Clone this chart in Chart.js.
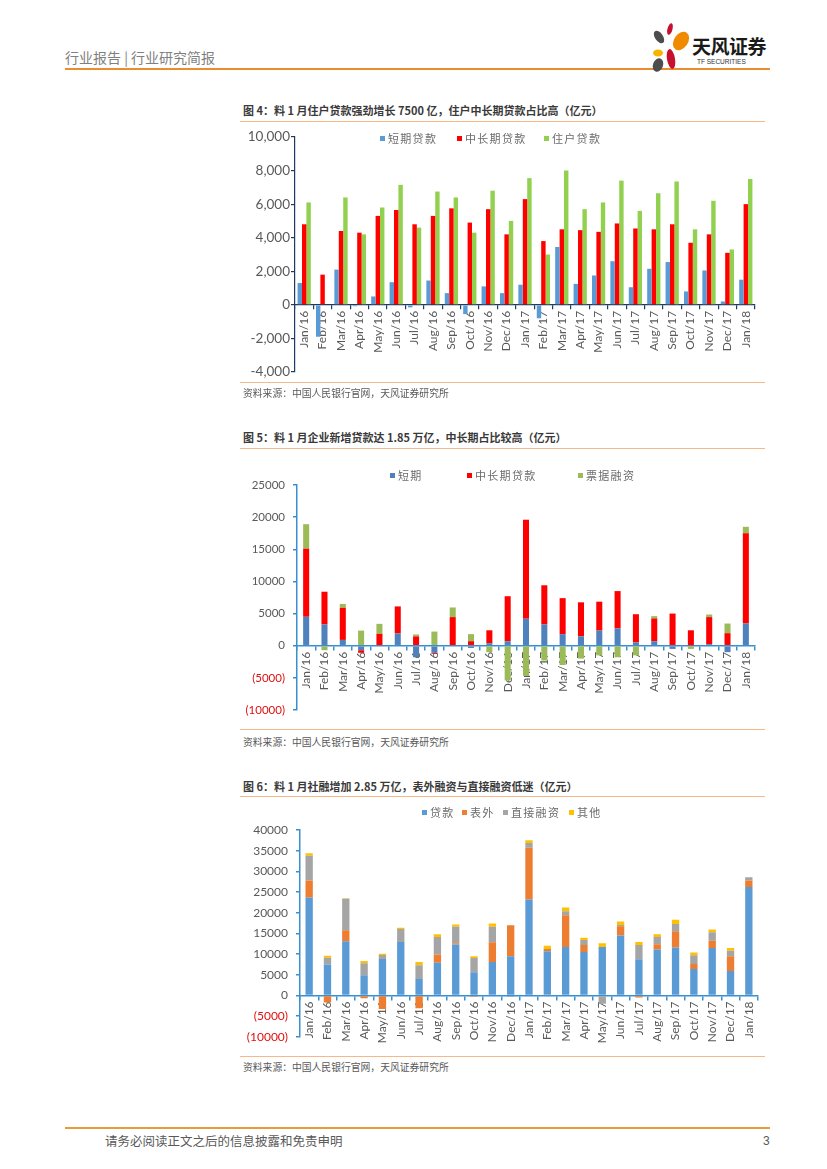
<!DOCTYPE html>
<html>
<head>
<meta charset="utf-8">
<script src="https://cdn.jsdelivr.net/npm/chart.js@4.4.1/dist/chart.umd.min.js"></script>
<style>
body{margin:0;background:#fff;}
#page{position:relative;width:827px;height:1169px;overflow:hidden;font-family:"Noto Sans CJK SC",sans-serif;}
.t{position:absolute;white-space:nowrap;}
.hl{position:absolute;height:0;}
.ttl{font-size:11px;font-weight:bold;color:#3a3a3a;line-height:14px;}
.src{font-size:9.8px;color:#595959;line-height:12px;}
.lg{position:absolute;white-space:nowrap;font-size:11px;letter-spacing:1.3px;color:#6b6b6b;line-height:12px;display:flex;align-items:center;}
.lg i{display:inline-block;width:5px;height:5px;margin-right:3px;}
canvas{position:absolute;}
</style>
</head>
<body>
<div id="page">
  <!-- header -->
  <div class="t" style="left:65px;top:48px;font-size:14px;color:#7f7f7f;line-height:18px;">行业报告 | 行业研究简报</div>
  <div class="hl" style="left:65px;top:68px;width:705px;border-top:2px solid #eb8c2f;"></div>
  <svg class="t" style="left:645px;top:22px;" width="50" height="52" viewBox="0 0 50 52">
    <ellipse cx="14" cy="15" rx="4" ry="7" fill="#4d4d4d" transform="rotate(-35 14 15)"/>
    <ellipse cx="25" cy="7" rx="2.5" ry="6" fill="#c8102e" transform="rotate(15 25 7)"/>
    <ellipse cx="36" cy="19" rx="7" ry="10" fill="#f08a00" transform="rotate(35 36 19)"/>
    <ellipse cx="13" cy="31" rx="5" ry="3.5" fill="#f7b500"/>
    <ellipse cx="26" cy="37" rx="4" ry="10" fill="#c8102e" transform="rotate(-10 26 37)"/>
    <ellipse cx="13" cy="43" rx="5" ry="7" fill="#4d4d4d" transform="rotate(20 13 43)"/>
  </svg>
  <div class="t" style="left:692px;top:34px;font-size:19px;font-weight:bold;color:#1a1a1a;line-height:24px;letter-spacing:-0.5px;">天风证券</div>
  <div class="t" style="left:697px;top:58px;font-size:6.5px;color:#333;line-height:8px;font-family:'Liberation Sans',sans-serif;">TF SECURITIES</div>

  <!-- chart 4 -->
  <div class="t ttl" style="left:243px;top:103px;">图 4：料 1 月住户贷款强劲增长 7500 亿，住户中长期贷款占比高（亿元）</div>
  <div class="hl" style="left:240px;top:121px;width:525px;border-top:1.5px solid #f5b88a;"></div>
  <canvas id="c1" width="540" height="265" style="left:230px;top:120px;width:540px;height:265px;"></canvas>
  <div class="lg" style="left:380px;top:132px;"><i style="background:#5b9bd5"></i>短期贷款</div>
  <div class="lg" style="left:457px;top:132px;"><i style="background:#ff0000"></i>中长期贷款</div>
  <div class="lg" style="left:544px;top:132px;"><i style="background:#92d050"></i>住户贷款</div>
  <div class="hl" style="left:240px;top:382px;width:525px;border-top:1.5px solid #f5b88a;"></div>
  <div class="t src" style="left:243px;top:387px;">资料来源：中国人民银行官网，天风证券研究所</div>

  <!-- chart 5 -->
  <div class="t ttl" style="left:243px;top:430px;">图 5：料 1 月企业新增贷款达 1.85 万亿，中长期占比较高（亿元）</div>
  <div class="hl" style="left:240px;top:448px;width:525px;border-top:1.5px solid #f5b88a;"></div>
  <canvas id="c2" width="540" height="275" style="left:230px;top:450px;width:540px;height:275px;"></canvas>
  <div class="lg" style="left:390px;top:469px;"><i style="background:#4f81bd"></i>短期</div>
  <div class="lg" style="left:467px;top:469px;"><i style="background:#ff0000"></i>中长期贷款</div>
  <div class="lg" style="left:578px;top:469px;"><i style="background:#9bbb59"></i>票据融资</div>
  <div class="hl" style="left:240px;top:729px;width:525px;border-top:1.5px solid #f5b88a;"></div>
  <div class="t src" style="left:243px;top:736px;">资料来源：中国人民银行官网，天风证券研究所</div>

  <!-- chart 6 -->
  <div class="t ttl" style="left:243px;top:779px;">图 6：料 1 月社融增加 2.85 万亿，表外融资与直接融资低迷（亿元）</div>
  <div class="hl" style="left:240px;top:796px;width:525px;border-top:1.5px solid #f5b88a;"></div>
  <canvas id="c3" width="540" height="252" style="left:230px;top:800px;width:540px;height:252px;"></canvas>
  <div class="lg" style="left:422px;top:806px;"><i style="background:#5b9bd5"></i>贷款</div>
  <div class="lg" style="left:462px;top:806px;"><i style="background:#ed7d31"></i>表外</div>
  <div class="lg" style="left:503px;top:806px;"><i style="background:#a5a5a5"></i>直接融资</div>
  <div class="lg" style="left:569px;top:806px;"><i style="background:#ffc000"></i>其他</div>
  <div class="hl" style="left:240px;top:1056px;width:525px;border-top:1.5px solid #f5b88a;"></div>
  <div class="t src" style="left:243px;top:1061px;">资料来源：中国人民银行官网，天风证券研究所</div>

  <!-- footer -->
  <div class="hl" style="left:65px;top:1127px;width:705px;border-top:2px solid #e99b3a;"></div>
  <div class="t" style="left:105px;top:1133px;font-size:12.5px;color:#595959;line-height:16px;">请务必阅读正文之后的信息披露和免责申明</div>
  <div class="t" style="left:763px;top:1133px;font-size:12px;color:#595959;line-height:16px;font-family:'Liberation Sans',sans-serif;">3</div>
</div>

<script>
// 月份
const meses = ["Jan/16","Feb/16","Mar/16","Apr/16","May/16","Jun/16","Jul/16","Aug/16","Sep/16","Oct/16","Nov/16","Dec/16",
  "Jan/17","Feb/17","Mar/17","Apr/17","May/17","Jun/17","Jul/17","Aug/17","Sep/17","Oct/17","Nov/17","Dec/17","Jan/18"];

// 图4 住户贷款
const hhCorto = [1300,-1900,2100,-80,500,1350,-150,1450,700,-550,1100,700,1200,-800,3450,1250,1750,2600,1050,2150,2550,800,2050,200,1500];
const hhLargo = [4800,1800,4400,4300,5300,5650,4800,5300,5750,4900,5700,4200,6300,3800,4500,4450,4350,4850,4550,4500,4800,3700,4200,3100,6000];
const hhTotal = [6100,0,6400,4200,5800,7150,4600,6750,6400,4300,6800,5000,7550,3000,8000,5700,6100,7400,5600,6650,7350,4500,6200,3300,7500];

// 图5 企业贷款
const empCorto = [4500,3300,900,-700,100,1900,-1800,-1100,100,-350,400,700,4200,3300,1800,1450,2350,2700,500,700,-500,50,250,-1000,3450];
const empLargo = [10600,5100,5000,-400,1750,4200,1450,-150,4350,700,2000,7000,15400,6100,5600,5300,4500,5800,4400,3550,5000,2350,4200,1950,14050];
const empBill  = [3800,-700,600,2350,1550,50,300,2200,1500,1100,-1000,-5400,-4700,-2300,-3000,-2000,-1500,-1800,-1500,350,0,-500,400,1500,1000];

// 图6 社融
const sfPrest  = [23700,7500,13100,4900,8800,12900,4000,7900,12300,5600,8100,9500,23200,10700,11700,10500,11700,14500,8750,11100,11600,6400,11500,5900,26200];
const sfFuera  = [4100,-1700,2650,-700,-3300,0,-3100,2000,300,-300,4750,7500,12500,500,7700,1700,0,2250,-500,1300,3900,1200,1750,3600,1600];
const sfDirect = [5950,1600,7600,2900,1000,3150,3300,4250,4000,3450,3750,-400,1150,-100,950,1200,-2000,300,3450,1750,1750,2100,2000,1300,800];
const sfOtro   = [650,500,150,500,250,300,800,650,550,400,800,0,650,800,900,550,900,800,700,650,1050,700,700,650,0];

const gris = "#595959";
const rojoNeg = "#e01010";

function escalas(o){
return {
x:{
stacked:o.stacked,
position:{y:0},
z:1,
offset:true,
afterFit:s=>{ s.height = 1; },
grid:{drawOnChartArea:false,drawTicks:true,tickLength:4,color:o.eje,lineWidth:o.ejeW,offset:true},
border:{color:o.eje,width:o.ejeW},
ticks:{autoSkip:false,maxRotation:90,minRotation:90,padding:2,color:gris,font:{family:"Lato",size:12}}
},
y:{
stacked:o.stacked,
min:o.min,
max:o.max,
afterFit:s=>{ s.width = o.yw; },
grid:{drawOnChartArea:false,drawTicks:true,tickLength:4,color:o.eje,lineWidth:o.ejeW},
border:{color:o.eje,width:o.ejeW},
ticks:{stepSize:o.step,padding:o.pad,font:{family:"Lato",size:o.fs},
color:c => (c.tick && c.tick.value < 0 && o.negRojo) ? rojoNeg : gris,
callback:o.fmt}
}
};
}

function crear(id, datasets, sc, pad){
return new Chart(document.getElementById(id), {
type:"bar",
data:{labels:meses, datasets:datasets},
options:{
responsive:false,
animation:false,
devicePixelRatio:1,
layout:{padding:pad},
plugins:{legend:{display:false},tooltip:{enabled:false}},
scales:sc
}
});
}

const fmtComa = v => v.toLocaleString("en-US");
const fmtPar = v => v < 0 ? "(" + (-v) + ")" : String(v);

crear("c1", [
{label:"短期贷款",data:hhCorto,backgroundColor:"#5b9bd5",barPercentage:1,categoryPercentage:0.72},
{label:"中长期贷款",data:hhLargo,backgroundColor:"#ff0000",barPercentage:1,categoryPercentage:0.72},
{label:"住户贷款",data:hhTotal,backgroundColor:"#92d050",barPercentage:1,categoryPercentage:0.72}
], escalas({stacked:false,min:-4000,max:10000,step:2000,yw:65,pad:1,fs:13.5,eje:"#1f3a60",ejeW:1.2,negRojo:false,fmt:fmtComa}),
{top:17,right:15,bottom:13,left:0});

crear("c2", [
{label:"短期",data:empCorto,backgroundColor:"#4f81bd",barPercentage:0.33,categoryPercentage:1},
{label:"中长期贷款",data:empLargo,backgroundColor:"#ff0000",barPercentage:0.33,categoryPercentage:1},
{label:"票据融资",data:empBill,backgroundColor:"#9bbb59",barPercentage:0.33,categoryPercentage:1}
], escalas({stacked:true,min:-10000,max:25000,step:5000,yw:67,pad:8,fs:11.5,eje:"#3a8fd0",ejeW:1.5,negRojo:true,fmt:fmtPar}),
{top:35,right:15,bottom:15,left:0});

crear("c3", [
{label:"贷款",data:sfPrest,backgroundColor:"#5b9bd5",barPercentage:0.4,categoryPercentage:1},
{label:"表外",data:sfFuera,backgroundColor:"#ed7d31",barPercentage:0.4,categoryPercentage:1},
{label:"直接融资",data:sfDirect,backgroundColor:"#a5a5a5",barPercentage:0.4,categoryPercentage:1},
{label:"其他",data:sfOtro,backgroundColor:"#ffc000",barPercentage:0.4,categoryPercentage:1}
], escalas({stacked:true,min:-10000,max:40000,step:5000,yw:70,pad:8,fs:12,eje:"#3a8fd0",ejeW:1.5,negRojo:true,fmt:fmtPar}),
{top:30,right:12,bottom:13,left:0});
</script>
</body>
</html>
